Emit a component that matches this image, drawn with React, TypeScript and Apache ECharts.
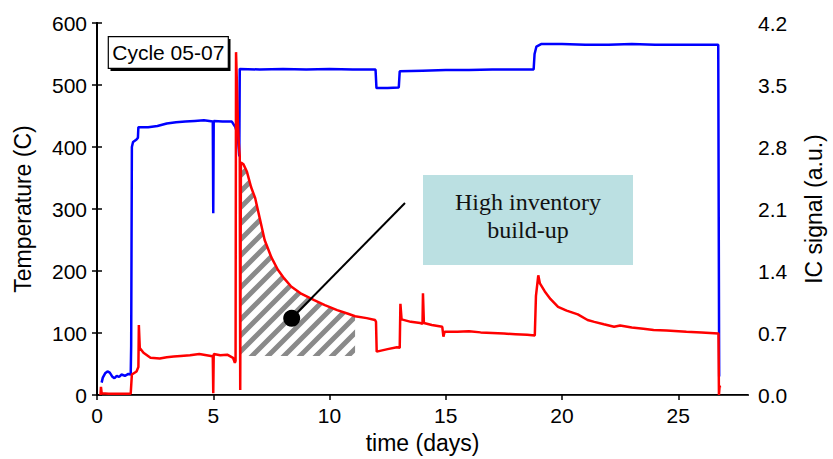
import React, { useEffect, useRef } from "react";
import * as echarts from "echarts";

// Temperature (C), left axis: [day, value]
const temperature: [number, number][] = [
  [0.2, 20], [0.25, 28], [0.35, 35], [0.45, 38], [0.55, 36], [0.65, 30], [0.75, 27],
  [0.85, 31], [0.95, 29], [1.05, 33], [1.2, 31], [1.35, 34], [1.45, 33], [1.47, 80],
  [1.5, 400], [1.55, 408], [1.7, 412], [1.76, 415], [1.78, 432], [2.2, 432], [2.6, 434],
  [3.0, 438], [3.4, 440], [3.8, 441], [4.2, 442], [4.6, 443], [4.98, 441], [5.0, 293],
  [5.02, 442], [5.4, 441], [5.8, 441], [5.95, 432], [6.05, 420], [6.12, 385], [6.14, 526],
  [7, 525], [8, 526], [9, 525], [10, 526], [11, 525], [11.98, 525], [12.02, 495],
  [12.5, 495], [12.98, 496], [13.02, 522], [14, 523], [15, 524], [16, 524], [17, 525],
  [18, 525], [18.78, 525], [18.82, 550], [18.9, 562], [19.1, 566], [20, 566], [21, 565],
  [22, 565], [23, 566], [24, 565], [25, 565], [26.72, 565], [26.74, 298], [26.76, 30],
];

// IC signal (a.u.), right axis: [day, value]
const icSignal: [number, number][] = [
  [0.15, 0], [0.17, 0.091], [0.2, 0.021], [0.5, 0.014], [1.0, 0.014], [1.45, 0.014],
  [1.5, 0.231], [1.7, 0.266], [1.78, 0.315], [1.8, 0.791], [1.84, 0.532], [2.0, 0.476],
  [2.3, 0.42], [2.7, 0.413], [3.0, 0.427], [3.3, 0.434], [3.6, 0.441], [4.0, 0.448],
  [4.4, 0.462], [4.9, 0.441], [4.98, 0.434], [5.0, 0.021], [5.02, 0.462], [5.3, 0.448],
  [5.6, 0.455], [5.85, 0.42], [5.93, 0.364], [5.96, 0.385], [5.98, 3.871], [6.02, 3.5],
  [6.06, 3.08], [6.1, 2.835], [6.14, 2.695], [6.16, 0.056], [6.19, 2.625], [6.3, 2.604],
  [6.45, 2.52], [6.63, 2.345], [6.8, 2.226], [7.0, 1.995], [7.21, 1.75], [7.5, 1.554],
  [7.78, 1.414], [8.05, 1.316], [8.35, 1.225], [8.8, 1.141], [9.34, 1.071], [9.8, 1.015],
  [10.33, 0.959], [10.8, 0.917], [11.1, 0.889], [11.6, 0.868], [11.96, 0.847], [12.0, 0.826],
  [12.03, 0.49], [12.5, 0.518], [12.9, 0.539], [13.02, 0.532], [13.05, 1.029], [13.1, 0.854],
  [13.5, 0.826], [13.9, 0.812], [14.0, 0.805], [14.02, 1.148], [14.06, 0.812], [14.4, 0.791],
  [14.85, 0.77], [14.9, 0.658], [14.95, 0.714], [15.5, 0.714], [16.0, 0.721], [16.5, 0.707],
  [17.0, 0.7], [17.5, 0.693], [18.0, 0.686], [18.5, 0.679], [18.83, 0.672], [18.88, 1.12],
  [18.98, 1.351], [19.05, 1.26], [19.26, 1.169], [19.5, 1.085], [19.83, 0.994], [20.2, 0.952],
  [20.68, 0.91], [21.1, 0.847], [21.39, 0.826], [21.8, 0.798], [22.24, 0.77], [22.5, 0.784],
  [23.0, 0.763], [23.5, 0.749], [23.94, 0.735], [24.5, 0.728], [25.35, 0.714], [26.0, 0.707],
  [26.73, 0.693], [26.75, 0], [26.78, 0.105], [26.8, 0.084],
];

// Hatched "high inventory build-up" region (days, and its floor in a.u.)
const hatchStart = 6.19;
const hatchEnd = 11.1;
const hatchFloor = 0.441;

const xTicks = { min: 0, max: 28, interval: 5 };
const leftTicks = { min: 0, max: 600, interval: 100 };
const rightTicks = { min: 0, max: 4.2, interval: 0.7 };

const FONT = "'Liberation Sans', Arial, sans-serif";

function makeHatch() {
  const s = 16;
  const c = document.createElement("canvas");
  c.width = s;
  c.height = s;
  const g = c.getContext("2d")!;
  g.strokeStyle = "#8a8a8a";
  g.lineWidth = 5;
  g.beginPath();
  g.moveTo(-s / 2, s / 2);
  g.lineTo(s / 2, -s / 2);
  g.moveTo(0, s);
  g.lineTo(s, 0);
  g.moveTo(s / 2, s * 1.5);
  g.lineTo(s * 1.5, s / 2);
  g.stroke();
  return c;
}

export default function App() {
  const ref = useRef<HTMLDivElement>(null);
  useEffect(() => {
    if (!ref.current) return;
    const chart = echarts.init(ref.current, null, { renderer: "svg" });
    const hatchPts = icSignal.filter(([x]) => x >= hatchStart && x <= hatchEnd);
    const hatchCanvas = makeHatch();
    const axisLabel = { color: "#000", fontSize: 21, fontFamily: FONT };
    const nameStyle = { color: "#000", fontSize: 23, fontFamily: FONT };
    chart.setOption({
      animation: false,
      backgroundColor: "#fff",
      grid: { left: 97, right: 77, top: 23, bottom: 64, containLabel: false },
      xAxis: [
        {
          type: "value",
          min: xTicks.min,
          max: xTicks.max,
          interval: xTicks.interval,
          name: "time (days)",
          nameLocation: "middle",
          nameGap: 36,
          nameTextStyle: nameStyle,
          axisLine: { show: true, lineStyle: { color: "#000", width: 2 } },
          axisTick: { show: true, length: 5, lineStyle: { color: "#000", width: 1.5 } },
          axisLabel: { ...axisLabel, margin: 10, showMaxLabel: false },
          splitLine: { show: false },
        },
        {
          type: "value",
          position: "top",
          min: xTicks.min,
          max: xTicks.max,
          axisLine: { show: true, lineStyle: { color: "#333", width: 1 } },
          axisTick: { show: false },
          axisLabel: { show: false },
          splitLine: { show: false },
        },
      ],
      yAxis: [
        {
          type: "value",
          min: leftTicks.min,
          max: leftTicks.max,
          interval: leftTicks.interval,
          name: "Temperature (C)",
          nameLocation: "middle",
          nameGap: 63,
          nameTextStyle: nameStyle,
          axisLine: { show: true, lineStyle: { color: "#000", width: 2 } },
          axisTick: { show: true, length: 5, lineStyle: { color: "#000", width: 1.5 } },
          axisLabel: { ...axisLabel, margin: 10 },
          splitLine: { show: false },
        },
        {
          type: "value",
          position: "right",
          min: rightTicks.min,
          max: rightTicks.max,
          interval: rightTicks.interval,
          name: "IC signal (a.u.)",
          nameLocation: "middle",
          nameGap: 54,
          nameTextStyle: nameStyle,
          axisLine: { show: true, lineStyle: { color: "#000", width: 2 } },
          axisTick: { show: true, length: 5, lineStyle: { color: "#000", width: 1.5 } },
          axisLabel: { ...axisLabel, margin: 10, formatter: (v: number) => v.toFixed(1) },
          splitLine: { show: false },
        },
      ],
      series: [
        {
          type: "custom",
          xAxisIndex: 0,
          yAxisIndex: 1,
          data: [[hatchStart, hatchFloor]],
          silent: true,
          z: 1,
          renderItem: (_params: any, api: any) => {
            const top = hatchPts.map(([x, y]) => api.coord([x, y]));
            const points = [
              ...top,
              api.coord([hatchEnd, hatchFloor]),
              api.coord([hatchStart, hatchFloor]),
            ];
            return {
              type: "polygon",
              shape: { points },
              style: {
                fill: { image: hatchCanvas, repeat: "repeat", imageWidth: 16, imageHeight: 16 },
                stroke: "none",
              },
            };
          },
        },
        {
          type: "line",
          yAxisIndex: 0,
          data: temperature,
          symbol: "none",
          lineStyle: { color: "#0000ff", width: 2.5 },
          z: 3,
        },
        {
          type: "line",
          yAxisIndex: 1,
          data: icSignal,
          symbol: "none",
          lineStyle: { color: "#ff0000", width: 2.5 },
          z: 4,
        },
      ],
      graphic: [
        { type: "rect", shape: { x: 110.5, y: 39, width: 120, height: 32 }, style: { fill: "#000" }, z: 10 },
        {
          type: "rect",
          shape: { x: 108.3, y: 36.7, width: 120, height: 31.6 },
          style: { fill: "#fff", stroke: "#000", lineWidth: 1.2 },
          z: 11,
        },
        {
          type: "text",
          x: 168.3,
          y: 52.5,
          style: {
            text: "Cycle 05-07",
            fill: "#000",
            font: `21px ${FONT}`,
            align: "center",
            verticalAlign: "middle",
          },
          z: 12,
        },
        {
          type: "rect",
          shape: { x: 423, y: 175, width: 210, height: 90 },
          style: { fill: "#bbe0e2" },
          z: 10,
        },
        {
          type: "text",
          x: 528,
          y: 216,
          style: {
            text: "High inventory\nbuild-up",
            fill: "#111",
            font: `24px 'Liberation Serif', 'Times New Roman', serif`,
            lineHeight: 28,
            align: "center",
            verticalAlign: "middle",
          },
          z: 12,
        },
        {
          type: "line",
          shape: { x1: 291.7, y1: 318.3, x2: 405, y2: 203 },
          style: { stroke: "#000", lineWidth: 2 },
          z: 10,
        },
        { type: "circle", shape: { cx: 291.7, cy: 318.3, r: 8.5 }, style: { fill: "#000" }, z: 10 },
      ],
    });
    return () => chart.dispose();
  }, []);
  return (
    <div
      ref={ref}
      style={{ position: "fixed", left: 0, top: 0, width: 833, height: 459, background: "#fff" }}
    />
  );
}
